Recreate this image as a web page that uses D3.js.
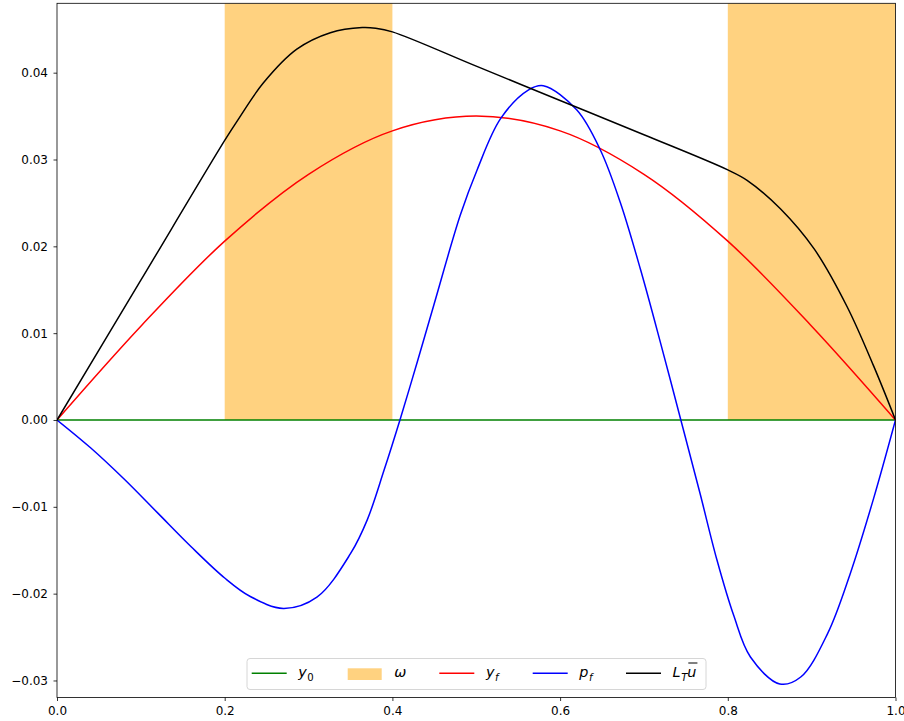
<!DOCTYPE html>
<html>
<head>
<meta charset="utf-8">
<script src="https://cdn.jsdelivr.net/npm/d3@7"></script>
<style>
  body { margin: 0; background: #fff; }
  svg { display: block; font-family: "DejaVu Sans", sans-serif; }
</style>
</head>
<body>
<svg id="chart" width="904" height="721"></svg>
<script>
// data
const yfX = [0, 0.1, 0.2, 0.3, 0.4, 0.5, 0.6, 0.7, 0.8, 0.9, 1];
const yfY = [0, 0.0108, 0.0206, 0.0283, 0.0333, 0.0350, 0.0333, 0.0283, 0.0206, 0.0108, 0];

const pfX = [0, 0.04, 0.08, 0.12, 0.16, 0.2, 0.23, 0.27, 0.31, 0.35, 0.37, 0.39, 0.409,
  0.43, 0.449, 0.481, 0.501, 0.529, 0.562, 0.58, 0.62, 0.648, 0.672, 0.696, 0.72, 0.744,
  0.767, 0.787, 0.807, 0.827, 0.862, 0.887, 0.919, 0.946, 0.974, 1];
const pfY = [0, -0.0032, -0.0068, -0.0107, -0.0146, -0.0182, -0.0203, -0.0217, -0.0204, -0.0154, -0.0115, -0.0058, 0,
  0.0068, 0.0131, 0.0236, 0.0288, 0.0347, 0.0380, 0.0385, 0.0357, 0.0311, 0.0250, 0.0173, 0.0088, 0,
  -0.0085, -0.0161, -0.0225, -0.0273, -0.0304, -0.0296, -0.0246, -0.0177, -0.0090, 0];

const luX = [0, 0.1, 0.2, 0.216, 0.246, 0.286, 0.326, 0.364, 0.38, 0.4, 0.5, 0.6, 0.7, 0.8,
  0.823, 0.863, 0.903, 0.942, 0.974, 1];
const luY = [0, 0.0161, 0.0322, 0.0346, 0.0388, 0.0427, 0.0446, 0.0452, 0.04512, 0.0447, 0.04075, 0.0368, 0.03285, 0.0288,
  0.0276, 0.0243, 0.0197, 0.0131, 0.0062, 0];

const y0X = [0, 1];
const y0Y = [0, 0];

const omegaStart = [0.2, 0.8];
const omegaEnd = [0.4, 1.0];

const xTicks = [0, 0.2, 0.4, 0.6, 0.8, 1.0];
const yTicks = [-0.03, -0.02, -0.01, 0, 0.01, 0.02, 0.03, 0.04];

const svg = d3.select('#chart');
const plotLeft = 57, plotRight = 895.5, plotTop = 3.3, plotBottom = 697.5;

const x = d3.scaleLinear().domain([0, 1]).range([plotLeft, plotRight]);
const y = d3.scaleLinear().domain([-0.03196, 0.04799]).range([plotBottom, plotTop]);

svg.append('defs').append('clipPath').attr('id', 'plot-clip')
  .append('rect')
  .attr('x', plotLeft).attr('y', plotTop)
  .attr('width', plotRight - plotLeft).attr('height', plotBottom - plotTop);

const plot = svg.append('g').attr('clip-path', 'url(#plot-clip)');

// omega region
plot.selectAll('rect.omega')
  .data(omegaStart.map((s, i) => [s, omegaEnd[i]]))
  .enter().append('rect')
    .attr('class', 'omega')
    .attr('x', d => x(d[0]))
    .attr('width', d => x(d[1]) - x(d[0]))
    .attr('y', y(y.domain()[1]))
    .attr('height', y(0) - y(y.domain()[1]))
    .attr('fill', '#ffd280');

const line = d3.line()
  .x(d => x(d[0]))
  .y(d => y(d[1]))
  .curve(d3.curveCatmullRom.alpha(0.5));

const series = [
  { xs: y0X, ys: y0Y, color: '#008000' },
  { xs: yfX, ys: yfY, color: '#ff0000' },
  { xs: pfX, ys: pfY, color: '#0000ff' },
  { xs: luX, ys: luY, color: '#000000' }
];

series.forEach(s => {
  plot.append('path')
    .datum(s.xs.map((v, i) => [v, s.ys[i]]))
    .attr('d', line)
    .attr('fill', 'none')
    .attr('stroke', s.color)
    .attr('stroke-width', 1.5)
    .attr('stroke-linejoin', 'round');
});

// axes
const xAxis = d3.axisBottom(x).tickValues(xTicks).tickFormat(d3.format('.1f'))
  .tickSize(3.5).tickSizeOuter(0).tickPadding(5);
const yAxis = d3.axisLeft(y).tickValues(yTicks).tickFormat(d3.format('.2f'))
  .tickSize(3.5).tickSizeOuter(0).tickPadding(5.5);

const gx = svg.append('g').attr('transform', `translate(0,${plotBottom})`).call(xAxis);
const gy = svg.append('g').attr('transform', `translate(${plotLeft},0)`).call(yAxis);
[gx, gy].forEach(g => {
  g.select('.domain').remove();
  g.selectAll('line').attr('stroke', '#000').attr('stroke-width', 0.8);
  g.selectAll('text').attr('font-size', 12).attr('fill', '#000')
    .attr('font-family', '"DejaVu Sans", sans-serif');
});

svg.append('rect')
  .attr('x', plotLeft).attr('y', plotTop)
  .attr('width', plotRight - plotLeft).attr('height', plotBottom - plotTop)
  .attr('fill', 'none').attr('stroke', '#000').attr('stroke-width', 0.8);

// legend
const legend = svg.append('g');
legend.append('rect')
  .attr('x', 247).attr('y', 658.5).attr('width', 459).attr('height', 31)
  .attr('rx', 3)
  .attr('fill', 'rgba(255,255,255,0.8)')
  .attr('stroke', '#d6d6d6').attr('stroke-width', 1);

const legendItems = [
  { kind: 'line', color: '#008000', parts: [['y', 'i'], ['0', 'sub-up']] },
  { kind: 'patch', color: '#ffd280', parts: [['ω', 'i']] },
  { kind: 'line', color: '#ff0000', parts: [['y', 'i'], ['f', 'sub']] },
  { kind: 'line', color: '#0000ff', parts: [['p', 'i'], ['f', 'sub']] },
  { kind: 'line', color: '#000000', parts: [['L', 'i'], ['T', 'sub'], ['u', 'i']], overline: true }
];
const handleX = [251.7, 347.7, 439.3, 532.7, 626];
const handleLen = 35, textPad = 11.6, midY = 673.3, baseY = 677.2;

legendItems.forEach((item, i) => {
  const hx = handleX[i];
  if (item.kind === 'line') {
    legend.append('line')
      .attr('x1', hx).attr('x2', hx + handleLen)
      .attr('y1', midY).attr('y2', midY)
      .attr('stroke', item.color).attr('stroke-width', 1.5);
  } else {
    legend.append('rect')
      .attr('x', hx).attr('y', 668.3).attr('width', handleLen - 1).attr('height', 11.7)
      .attr('fill', item.color);
  }
  const t = legend.append('text')
    .attr('x', hx + handleLen + textPad).attr('y', baseY)
    .attr('font-size', 14.4).attr('fill', '#000');
  let shifted = false;
  item.parts.forEach(([str, style]) => {
    const sp = t.append('tspan').text(str);
    if (style === 'i') {
      sp.attr('font-style', 'italic');
      if (shifted) { sp.attr('dy', -4); shifted = false; }
    } else {
      sp.attr('font-size', 10.1).attr('dy', 4);
      if (style === 'sub') sp.attr('font-style', 'italic');
      sp.attr('dx', 0.5);
      shifted = true;
    }
  });
  if (item.overline) {
    const node = t.node();
    const n = node.getNumberOfChars() - 1;
    const x0 = node.getStartPositionOfChar(n).x;
    const x1 = node.getEndPositionOfChar(n).x;
    legend.append('line')
      .attr('x1', x0 + 1).attr('x2', x1 + 1)
      .attr('y1', 663).attr('y2', 663)
      .attr('stroke', '#000').attr('stroke-width', 1);
  }
});
</script>
</body>
</html>
